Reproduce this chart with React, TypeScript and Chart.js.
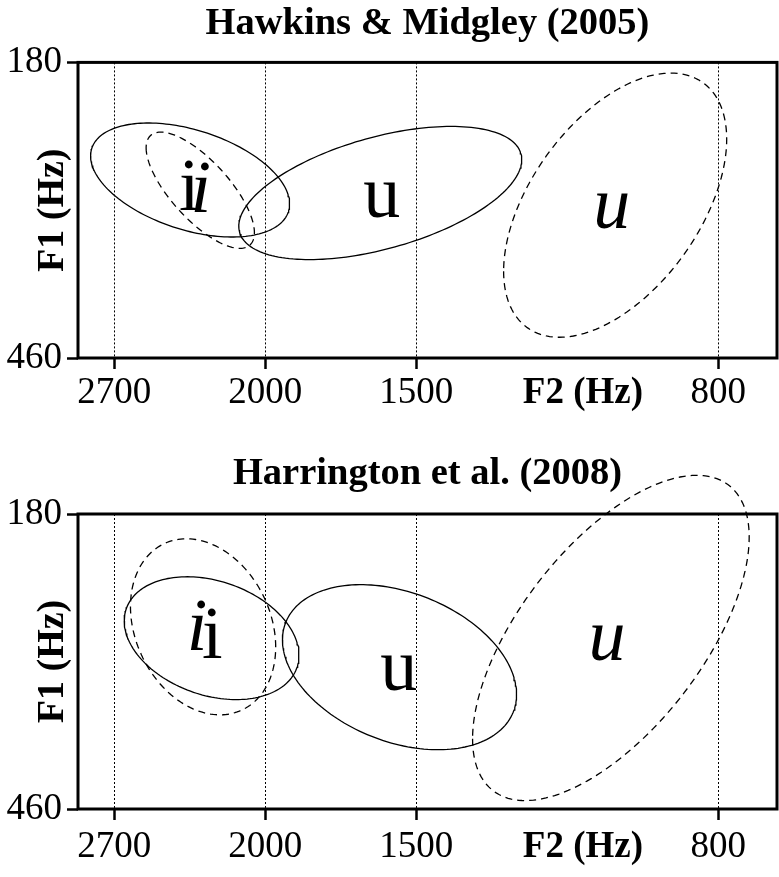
import React, { useEffect, useRef } from 'react';
import { Chart, LinearScale, registerables } from 'chart.js';

const FONT = '"Liberation Serif", "Times New Roman", serif';

// ---------- data (Hz) ----------
// F2 axis is drawn on a Bark scale; ticks sit at Bark 15, 13, 11, 7
const F2_TICK_BARK = [15, 13, 11, 7];
const F2_TICK_LABELS = ['2700', '2000', '1500', '800'];
const F2_MIN = 660;
const F2_MAX = 2905;
const F2_LABEL_HZ = 1045;
const F1_TICKS = [180, 460];

// ellipse = [F2 low, F2 high, F1 low, F1 high, correlation (Bark space)]
const HM_I_SOLID = [1903, 2831, 232, 337, -0.42];
const HM_I_DASHED = [2040, 2530, 240, 348, -0.73];
const HM_U_SOLID = [1191, 2104, 235, 359, 0.5];
const HM_U_DASHED = [750, 1237, 189, 438, 0.5];

const HA_I_SOLID = [1868, 2644, 234, 348, -0.28];
const HA_I_DASHED = [1956, 2611, 201, 363, -0.23];
const HA_U_SOLID = [1204, 1930, 241, 398, -0.33];
const HA_U_DASHED = [709, 1319, 148, 451, 0.62];

const HM_LABEL_TEXT = ['i', 'i', 'u', 'u'];
const HM_LABEL_ITALIC = [false, true, false, true];
const HM_LABEL_F2 = [2321, 2268, 1585, 981];
const HM_LABEL_F1 = [311, 313, 318, 328];

const HA_LABEL_TEXT = ['i', 'i', 'u', 'u'];
const HA_LABEL_ITALIC = [true, false, false, true];
const HA_LABEL_F2 = [2286, 2217, 1532, 991];
const HA_LABEL_F1 = [301, 308, 339, 310];

// ---------- Bark scale ----------
const hzToBark = (f: number) => (26.81 * f) / (1960 + f) - 0.53;
const barkToHz = (z: number) => (1960 * (z + 0.53)) / (26.28 - z);

class BarkScale extends LinearScale {
  static id = 'bark';
  static defaults = LinearScale.defaults;
  getPixelForValue(value: any) {
    if (value === null || value === undefined || Number.isNaN(+value)) return NaN;
    const z0 = hzToBark(this.min);
    const z1 = hzToBark(this.max);
    return this.getPixelForDecimal((hzToBark(+value) - z0) / (z1 - z0));
  }
  getValueForPixel(pixel: number) {
    const z0 = hzToBark(this.min);
    const z1 = hzToBark(this.max);
    return barkToHz(z0 + this.getDecimalForPixel(pixel) * (z1 - z0));
  }
}

Chart.register(...registerables, BarkScale as any);

function ellipsePoints(e: number[]) {
  const [f2Lo, f2Hi, f1Lo, f1Hi, r] = e;
  const zc2 = (hzToBark(f2Lo) + hzToBark(f2Hi)) / 2;
  const w2 = (hzToBark(f2Hi) - hzToBark(f2Lo)) / 2;
  const zc1 = (hzToBark(f1Lo) + hzToBark(f1Hi)) / 2;
  const w1 = (hzToBark(f1Hi) - hzToBark(f1Lo)) / 2;
  const s = Math.sqrt(1 - r * r);
  const pts: { x: number; y: number }[] = [];
  const N = 180;
  for (let k = 0; k <= N; k++) {
    const t = (2 * Math.PI * k) / N;
    const z2 = zc2 + w2 * Math.cos(t);
    const z1 = zc1 + w1 * (r * Math.cos(t) + s * Math.sin(t));
    pts.push({ x: barkToHz(z2), y: barkToHz(z1) });
  }
  return pts;
}

type PanelCfg = {
  title: string;
  height: number;
  titlePadTop: number;
  titlePadBottom: number;
  xAxisHeight: number;
  xTickPad: number;
  solid: number[][];
  dashed: number[][];
  labelText: string[];
  labelItalic: boolean[];
  labelF2: number[];
  labelF1: number[];
};

const PANELS: PanelCfg[] = [
  {
    title: 'Hawkins & Midgley (2005)',
    height: 440,
    titlePadTop: 0.6,
    titlePadBottom: 15.6,
    xAxisHeight: 82,
    xTickPad: 2,
    solid: [HM_I_SOLID, HM_U_SOLID],
    dashed: [HM_I_DASHED, HM_U_DASHED],
    labelText: HM_LABEL_TEXT,
    labelItalic: HM_LABEL_ITALIC,
    labelF2: HM_LABEL_F2,
    labelF1: HM_LABEL_F1,
  },
  {
    title: 'Harrington et al. (2008)',
    height: 437,
    titlePadTop: 11.2,
    titlePadBottom: 16.6,
    xAxisHeight: 68,
    xTickPad: 5,
    solid: [HA_I_SOLID, HA_U_SOLID],
    dashed: [HA_I_DASHED, HA_U_DASHED],
    labelText: HA_LABEL_TEXT,
    labelItalic: HA_LABEL_ITALIC,
    labelF2: HA_LABEL_F2,
    labelF1: HA_LABEL_F1,
  },
];

const TICK_LEN = 11;
const FONT_SIZE = 37;
const TITLE_SIZE = 38.5;

function Panel({ cfg }: { cfg: PanelCfg }) {
  const ref = useRef<HTMLCanvasElement | null>(null);
  useEffect(() => {
    if (!ref.current) return;
    const mk = (e: number[], dashed: boolean) => ({
      data: ellipsePoints(e),
      showLine: true,
      borderColor: '#000',
      borderWidth: 1.3,
      borderDash: dashed ? [7, 5] : [],
      pointRadius: 0,
      fill: false,
      clip: false as any,
      tension: 0,
    });
    const datasets = [
      ...cfg.solid.map((e) => mk(e, false)),
      ...cfg.dashed.map((e) => mk(e, true)),
    ];
    const decor = {
      id: 'panelDecor',
      afterDatasetsDraw(chart: any) {
        const { ctx, chartArea: a, scales } = chart;
        const x = scales.x;
        const y = scales.y;
        ctx.save();
        ctx.fillStyle = '#000';
        ctx.textAlign = 'center';
        ctx.textBaseline = 'alphabetic';
        cfg.labelText.forEach((t, i) => {
          ctx.font = `${cfg.labelItalic[i] ? 'italic ' : ''}74px ${FONT}`;
          ctx.fillText(t, x.getPixelForValue(cfg.labelF2[i]), y.getPixelForValue(cfg.labelF1[i]));
        });
        ctx.lineWidth = 3;
        ctx.strokeStyle = '#000';
        ctx.setLineDash([]);
        ctx.strokeRect(a.left, a.top, a.right - a.left, a.bottom - a.top);
        ctx.font = `bold ${FONT_SIZE}px ${FONT}`;
        ctx.textBaseline = 'middle';
        ctx.fillText(
          'F2 (Hz)',
          x.getPixelForValue(F2_LABEL_HZ),
          x.top + TICK_LEN + cfg.xTickPad + (FONT_SIZE * 1.2) / 2
        );
        ctx.restore();
      },
    };
    const chart = new Chart(ref.current, {
      type: 'scatter',
      data: { datasets },
      plugins: [decor],
      options: {
        responsive: false,
        animation: false,
        devicePixelRatio: 1,
        layout: { padding: { left: 0, right: 2, top: 0, bottom: 0 } },
        plugins: {
          legend: { display: false },
          tooltip: { enabled: false },
          title: {
            display: true,
            text: cfg.title,
            fullSize: false,
            color: '#000',
            font: { family: FONT, size: TITLE_SIZE, weight: 'bold', lineHeight: 1.2 },
            padding: { top: cfg.titlePadTop, bottom: cfg.titlePadBottom },
          },
        },
        scales: {
          x: {
            type: 'bark' as any,
            reverse: true,
            min: F2_MIN,
            max: F2_MAX,
            bounds: 'data',
            afterBuildTicks: (s: any) => {
              s.ticks = F2_TICK_BARK.map((z) => ({ value: barkToHz(z) }));
            },
            afterFit: (s: any) => {
              s.height = cfg.xAxisHeight;
            },
            ticks: {
              autoSkip: false,
              maxRotation: 0,
              minRotation: 0,
              padding: cfg.xTickPad,
              color: '#000',
              font: { family: FONT, size: FONT_SIZE, lineHeight: 1.2 },
              callback: (_v: any, i: number) => F2_TICK_LABELS[i],
            },
            grid: {
              color: '#000',
              lineWidth: 1,
              drawOnChartArea: true,
              drawTicks: true,
              tickLength: TICK_LEN,
              tickWidth: 2.5,
              tickColor: '#000',
            },
            border: { display: false, dash: [2, 2] },
          },
          y: {
            type: 'bark' as any,
            reverse: true,
            min: F1_TICKS[0],
            max: F1_TICKS[1],
            bounds: 'data',
            afterBuildTicks: (s: any) => {
              s.ticks = F1_TICKS.map((v) => ({ value: v }));
            },
            afterFit: (s: any) => {
              s.width = 78;
            },
            ticks: {
              padding: 5,
              color: '#000',
              font: { family: FONT, size: FONT_SIZE, lineHeight: 1.2 },
              callback: (_v: any, i: number) => String(F1_TICKS[i]),
            },
            grid: {
              drawOnChartArea: false,
              drawTicks: true,
              tickLength: TICK_LEN,
              tickWidth: 2.5,
              tickColor: '#000',
            },
            border: { display: false },
            title: {
              display: true,
              text: 'F1 (Hz)',
              color: '#000',
              font: { family: FONT, size: 38, weight: 'bold', lineHeight: 1.2 },
              padding: { top: 30, bottom: 0 },
            },
          },
        },
      } as any,
    });
    return () => chart.destroy();
  }, [cfg]);
  return <canvas ref={ref} width={779} height={cfg.height} style={{ display: 'block' }} />;
}

export default function App() {
  return (
    <div style={{ position: 'absolute', left: 0, top: 0, width: 779, height: 877, background: '#fff' }}>
      {PANELS.map((p, i) => (
        <Panel key={i} cfg={p} />
      ))}
    </div>
  );
}
